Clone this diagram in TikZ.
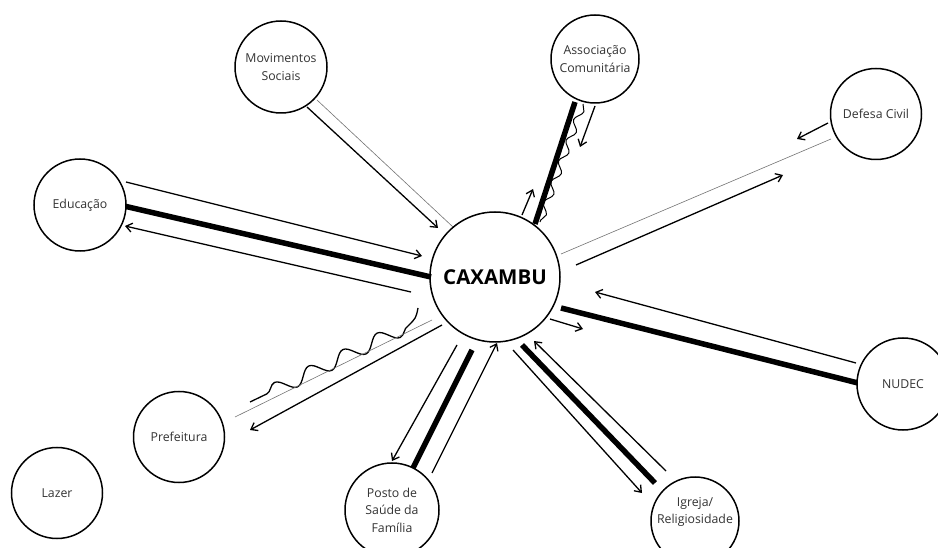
\documentclass[tikz,border=0pt]{standalone}
\usepackage{fontspec}
\setmainfont{Open Sans}
\usetikzlibrary{arrows.meta,decorations.pathmorphing}
\tikzset{
  circ/.style={circle,draw=black,line width=1.5pt,inner sep=0pt,fill=white},
  lbl/.style={align=center,text=black!80,font=\fontsize{12.3}{17.5}\selectfont,inner sep=0pt},
  strong/.style={line width=5.5pt,line cap=butt},
  weak/.style={line width=0.6pt,draw=black!55},
  flow/.style={line width=1.3pt,-{Straight Barb[length=6pt,width=9pt,line width=1.3pt]}},
  wave/.style={line width=1.3pt,decorate,decoration={snake,amplitude=#1}},
}
\begin{document}
\begin{tikzpicture}[x=1pt,y=-1pt]
\useasboundingbox (0,0) rectangle (938,548);
\begin{scope}
\clip (0,0) rectangle (938,548);
% ---------- connectors ----------
% Movimentos Sociais
\coordinate (m1) at (317,100); \coordinate (m2) at (453,227);
\coordinate (m3) at (307,107); \coordinate (m4) at (438,228);
\draw[weak] (m1) -- (m2);
\draw[flow] (m3) -- (m4);
% Associacao
\coordinate (a1) at (575,102); \coordinate (a2) at (535,224);
\coordinate (a3) at (583,104); \coordinate (a4) at (540,222);
\coordinate (a5) at (522,215); \coordinate (a6) at (533,189);
\coordinate (a7) at (595,106); \coordinate (a8) at (580,147);
\draw[strong] (a1) -- (a2);
\draw[wave=3.5pt,decoration={segment length=22pt},line width=1pt] (a3) -- (a4);
\draw[flow] (a5) -- (a6);
\draw[flow] (a7) -- (a8);
% Defesa Civil
\coordinate (d1) at (831,139); \coordinate (d2) at (561,254);
\coordinate (d3) at (828,123); \coordinate (d4) at (797,139);
\coordinate (d5) at (576,265); \coordinate (d6) at (783,175);
\draw[weak] (d1) -- (d2);
\draw[flow] (d3) -- (d4);
\draw[flow] (d5) -- (d6);
% NUDEC
\coordinate (n1) at (561,308); \coordinate (n2) at (858,383);
\coordinate (n3) at (856,363); \coordinate (n4) at (595,292);
\coordinate (n5) at (550,319); \coordinate (n6) at (583,329);
\draw[strong] (n1) -- (n2);
\draw[flow] (n3) -- (n4);
\draw[flow] (n5) -- (n6);
% Educacao
\coordinate (e1) at (126,182); \coordinate (e2) at (422,256);
\coordinate (e3) at (124,206); \coordinate (e4) at (431,277);
\coordinate (e5) at (411,292); \coordinate (e6) at (125,226);
\draw[flow] (e1) -- (e2);
\draw[strong] (e3) -- (e4);
\draw[flow] (e5) -- (e6);
% Prefeitura
\coordinate (p0) at (418,308); \coordinate (p1) at (408,326);
\coordinate (p2) at (250,402);
\coordinate (p3) at (432,320); \coordinate (p4) at (235,417);
\coordinate (p5) at (442,325); \coordinate (p6) at (250,430);
\draw[line width=1.3pt] (p0) .. controls (416,318) .. (p1);
\draw[wave=7pt,decoration={segment length=38pt}] (p1) -- (p2);
\draw[weak] (p3) -- (p4);
\draw[flow] (p5) -- (p6);
% Posto de Saude
\coordinate (s1) at (457,345); \coordinate (s2) at (392,461);
\coordinate (s3) at (472,350); \coordinate (s4) at (412,470);
\coordinate (s5) at (432,473); \coordinate (s6) at (497,343);
\draw[flow] (s1) -- (s2);
\draw[strong] (s3) -- (s4);
\draw[flow] (s5) -- (s6);
% Igreja
\coordinate (i1) at (513,350); \coordinate (i2) at (642,493);
\coordinate (i3) at (522,345); \coordinate (i4) at (655,483);
\coordinate (i5) at (666,471); \coordinate (i6) at (534,341);
\draw[flow] (i1) -- (i2);
\draw[strong] (i3) -- (i4);
\draw[flow] (i5) -- (i6);
% ---------- nodes ----------
\node[circ,minimum size=130pt,fill=none] (cax) at (495,277) {};
\node[lbl,font=\fontsize{20.5}{24}\selectfont\bfseries,text=black] at (cax) {CAXAMBU};
\node[circ,minimum size=92pt] (mov) at (281,67) {};
\node[lbl] at (mov) {Movimentos\\Sociais};
\node[circ,minimum size=88pt] (asso) at (595,59) {};
\node[lbl] at (asso) {Associação\\Comunitária};
\node[circ,minimum size=91pt] (def) at (876,114) {};
\node[lbl] at (def) {Defesa Civil};
\node[circ,minimum size=92pt] (edu) at (80,205) {};
\node[lbl] at (edu) {Educação};
\node[circ,minimum size=92pt] (nud) at (903,384) {};
\node[lbl] at (nud) {NUDEC};
\node[circ,minimum size=91pt] (pre) at (179,437) {};
\node[lbl] at (pre) {Prefeitura};
\node[circ,minimum size=91pt] (laz) at (57,493) {};
\node[lbl] at (laz) {Lazer};
\node[circ,minimum size=94pt] (pos) at (392,510) {};
\node[lbl] at (pos) {Posto de\\Saúde da\\Família};
\node[circ,minimum size=88pt] (igr) at (695,521) {};
\node[lbl] at ([yshift=9pt]igr) {Igreja/\\Religiosidade};
\end{scope}
\end{tikzpicture}
\end{document}
